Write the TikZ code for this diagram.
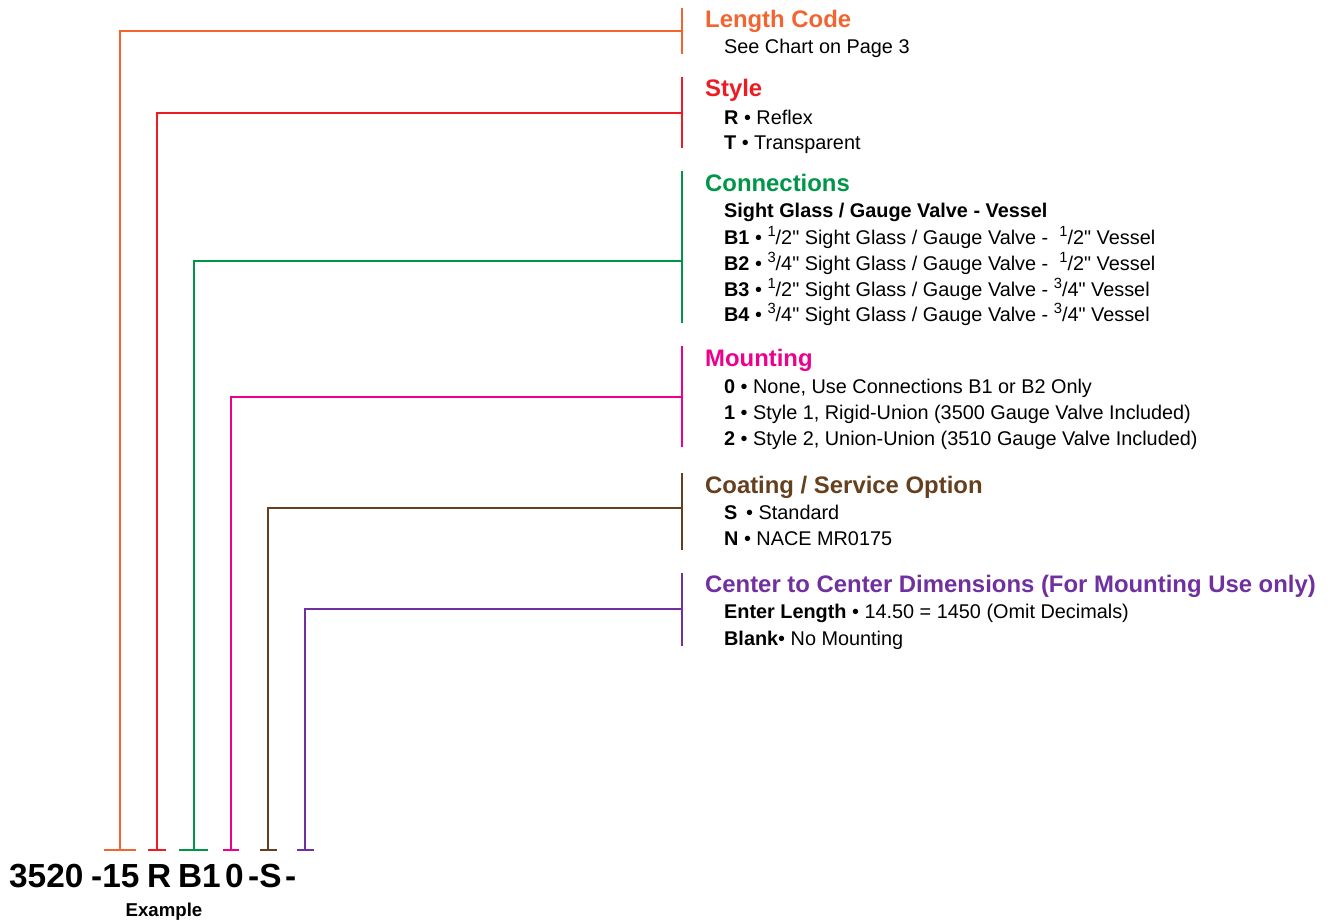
\documentclass[tikz,border=0pt]{standalone}
\usepackage{fontspec}
\setmainfont{Liberation Sans}[Ligatures=TeXOff]
\definecolor{lencol}{RGB}{242,101,49}
\definecolor{stycol}{RGB}{237,28,36}
\definecolor{concol}{RGB}{0,150,72}
\definecolor{moucol}{RGB}{236,0,140}
\definecolor{coacol}{RGB}{102,64,30}
\definecolor{cencol}{RGB}{112,48,160}
\tikzset{
  head/.style={anchor=base west,inner sep=0pt,font=\fontsize{13.6}{16}\selectfont\bfseries},
  item/.style={anchor=base west,inner sep=0pt,font=\fontsize{11.3}{13}\selectfont},
  part/.style={anchor=base west,inner sep=0pt,font=\fontsize{19}{22}\selectfont\bfseries},
}
\newcommand{\frc}[2]{\raisebox{0.38em}{\fontsize{8.4}{9}\selectfont#1}/#2}
\begin{document}
\begin{tikzpicture}[x=0.02cm,y=-0.02cm,line width=1.3pt]
  \useasboundingbox (0,0) rectangle (1335,921);
  \def\xb{682} % bars
  \def\xh{704} % headings
  \def\xt{723} % items
  \def\yf{850} % feet
  % Length Code
  \node[head,lencol] (len) at (\xh,27) {Length Code};
  \node[item] (len1) at (\xt,53) {See Chart on Page 3};
  \coordinate (lenbar) at (\xb,31); \coordinate (lenfoot) at (120,\yf);
  \draw[lencol] (\xb,8) -- (\xb,54) (lenbar) -| (lenfoot) (104,\yf) -- (136,\yf);
  % Style
  \node[head,stycol] (sty) at (\xh,96) {Style};
  \node[item] (sty1) at (\xt,124) {\textbf{R} • Reflex};
  \node[item] (sty2) at (\xt,149) {\textbf{T} • Transparent};
  \coordinate (stybar) at (\xb,113); \coordinate (styfoot) at (157,\yf);
  \draw[stycol] (\xb,77) -- (\xb,148) (stybar) -| (styfoot) (148,\yf) -- (166,\yf);
  % Connections
  \node[head,concol] (con) at (\xh,191) {Connections};
  \node[item] (con0) at (\xt,217) {\textbf{Sight Glass / Gauge Valve - Vessel}};
  \node[item] (con1) at (\xt,244) {\textbf{B1} • \frc12" Sight Glass / Gauge Valve - \ \frc12" Vessel};
  \node[item] (con2) at (\xt,270) {\textbf{B2} • \frc34" Sight Glass / Gauge Valve - \ \frc12" Vessel};
  \node[item] (con3) at (\xt,296) {\textbf{B3} • \frc12" Sight Glass / Gauge Valve - \frc34" Vessel};
  \node[item] (con4) at (\xt,321) {\textbf{B4} • \frc34" Sight Glass / Gauge Valve - \frc34" Vessel};
  \coordinate (conbar) at (\xb,261); \coordinate (confoot) at (194,\yf);
  \draw[concol] (\xb,171) -- (\xb,323) (conbar) -| (confoot) (179,\yf) -- (208,\yf);
  % Mounting
  \node[head,moucol] (mou) at (\xh,366) {Mounting};
  \node[item] (mou0) at (\xt,393) {\textbf{0} • None, Use Connections B1 or B2 Only};
  \node[item] (mou1) at (\xt,419) {\textbf{1} • Style 1, Rigid-Union (3500 Gauge Valve Included)};
  \node[item] (mou2) at (\xt,445) {\textbf{2} • Style 2, Union-Union (3510 Gauge Valve Included)};
  \coordinate (moubar) at (\xb,397); \coordinate (moufoot) at (231,\yf);
  \draw[moucol] (\xb,346) -- (\xb,447) (moubar) -| (moufoot) (223,\yf) -- (239,\yf);
  % Coating / Service Option
  \node[head,coacol] (coa) at (\xh,493) {Coating / Service Option};
  \node[item] (coa1) at (\xt,519) {\textbf{S} \,• Standard};
  \node[item] (coa2) at (\xt,545) {\textbf{N} • NACE MR0175};
  \coordinate (coabar) at (\xb,508); \coordinate (coafoot) at (268,\yf);
  \draw[coacol] (\xb,473) -- (\xb,550) (coabar) -| (coafoot) (260,\yf) -- (277,\yf);
  % Center to Center Dimensions
  \node[head,cencol] (cen) at (\xh,592) {Center to Center Dimensions (For Mounting Use only)};
  \node[item] (cen1) at (\xt,618) {\textbf{Enter Length} • 14.50 = 1450 (Omit Decimals)};
  \node[item] (cen2) at (\xt,645) {\textbf{Blank}• No Mounting};
  \coordinate (cenbar) at (\xb,609); \coordinate (cenfoot) at (305,\yf);
  \draw[cencol] (\xb,573) -- (\xb,646) (cenbar) -| (cenfoot) (297,\yf) -- (314,\yf);
  % part number
  \node[part] (p1) at (8,887) {3520};
  \node[part] (p2) at (90,887) {-15};
  \node[part] (p3) at (146,887) {R};
  \node[part] (p4) at (177,887) {B1};
  \node[part] (p5) at (224,887) {0};
  \node[part] (p6) at (247,887) {-S};
  \node[part] (p7) at (284,887) {-};
  \node[anchor=base,inner sep=0pt,font=\fontsize{10.6}{12}\selectfont\bfseries] (ex) at (164,916) {Example};
\end{tikzpicture}
\end{document}
